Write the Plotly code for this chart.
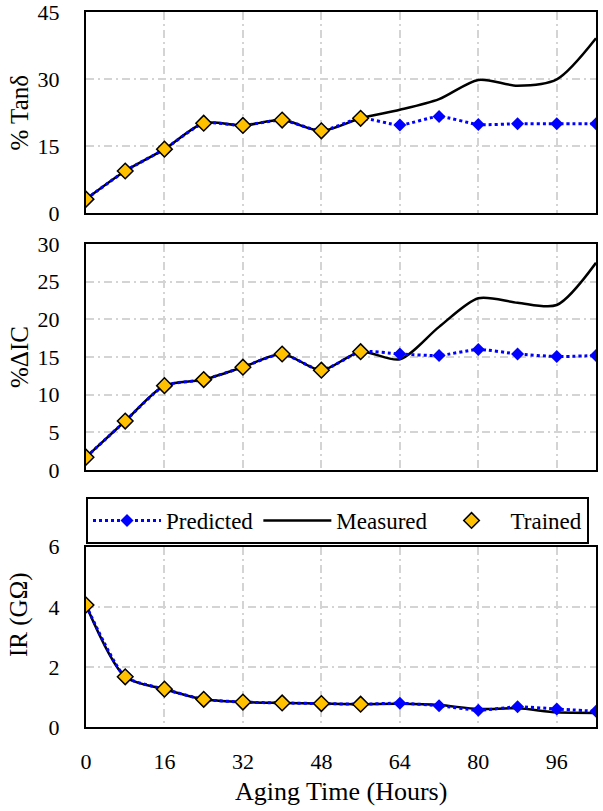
import plotly.graph_objects as go

# ---------------- data ----------------
hours = [0, 8, 16, 24, 32, 40, 48, 56, 64, 72, 80, 88, 96, 104]
trained_hours = [0, 8, 16, 24, 32, 40, 48, 56]

tan_measured = [3.1, 9.4, 14.3, 20.1, 19.6, 20.8, 18.4, 21.2, 23.1, 25.5, 29.8, 28.5, 29.9, 39.1]
tan_predicted = [3.1, 9.4, 14.3, 20.1, 19.6, 20.8, 18.4, 21.2, 19.7, 21.6, 19.8, 20.0, 20.0, 20.0]
tan_trained = [3.1, 9.4, 14.3, 20.1, 19.6, 20.8, 18.4, 21.2]

ic_measured = [1.7, 6.5, 11.2, 12.0, 13.65, 15.4, 13.25, 15.7, 14.7, 19.0, 22.8, 22.2, 21.9, 27.5]
ic_predicted = [1.7, 6.5, 11.2, 12.0, 13.65, 15.4, 13.25, 15.7, 15.4, 15.2, 16.0, 15.4, 15.06, 15.2]
ic_trained = [1.7, 6.5, 11.2, 12.0, 13.65, 15.4, 13.25, 15.7]

ir_measured = [4.06, 1.67, 1.26, 0.92, 0.83, 0.80, 0.78, 0.76, 0.77, 0.73, 0.60, 0.62, 0.49, 0.47]
ir_predicted = [4.06, 1.67, 1.26, 0.92, 0.83, 0.80, 0.78, 0.76, 0.79, 0.71, 0.56, 0.67, 0.60, 0.52]
ir_trained = [4.06, 1.67, 1.26, 0.92, 0.83, 0.80, 0.78, 0.76]

x_ticks = [0, 16, 32, 48, 64, 80, 96]
y_titles = ["% Tanδ", "%ΔIC", "IR (GΩ)"]
x_title = "Aging Time (Hours)"

FONT = "Liberation Serif"
BLUE = "#0000FF"
ORANGE = "#FFC000"

fig = go.Figure()

panels = [
    ("", tan_measured, tan_predicted, tan_trained),
    ("2", ic_measured, ic_predicted, ic_trained),
    ("3", ir_measured, ir_predicted, ir_trained),
]

for i, (sfx, meas, pred, trn) in enumerate(panels):
    show = i == 0
    xa, ya = "x" + sfx, "y" + sfx
    fig.add_trace(go.Scatter(
        x=hours, y=meas, mode="lines", name="Measured",
        line=dict(color="black", width=2.5, shape="spline", smoothing=0.8),
        xaxis=xa, yaxis=ya, showlegend=show, legendrank=2))
    fig.add_trace(go.Scatter(
        x=hours, y=pred, mode="lines+markers", name="Predicted",
        line=dict(color=BLUE, width=3, dash="dot", shape="spline", smoothing=0.6),
        marker=dict(symbol="diamond", size=10, color=BLUE),
        xaxis=xa, yaxis=ya, showlegend=show, legendrank=1))
    fig.add_trace(go.Scatter(
        x=trained_hours, y=trn, mode="markers", name="Trained",
        marker=dict(symbol="diamond", size=12, color=ORANGE,
                    line=dict(color="black", width=1.5)),
        xaxis=xa, yaxis=ya, showlegend=show, legendrank=3))

tickfont = dict(size=22, family=FONT, color="black")
grid = dict(showgrid=True, gridcolor="#d4d4d4", gridwidth=1.5,
            griddash="8px,4px,2px,4px", zeroline=False,
            showline=True, linecolor="black", linewidth=2, mirror=True,
            ticks="", ticklabeloverflow="allow")

# paper area: y from 12 to 727 px (715 px tall)
def frac(py):
    return (727 - py) / 715

doms = [(frac(213), 1.0), (frac(470), frac(244)), (0.0, frac(546.7))]
yranges = [(0, 45, 15), (0, 30, 5), (0, 6, 2)]

for i, sfx in enumerate(["", "2", "3"]):
    xdict = dict(grid, range=[0, 104], tickvals=x_ticks, anchor="y" + sfx,
                 showticklabels=(i == 2), ticklabelstandoff=14,
                 tickfont=tickfont)
    if sfx:
        xdict["matches"] = "x"
    fig.update_layout(**{
        "xaxis" + sfx: xdict,
        "yaxis" + sfx: dict(grid, range=[yranges[i][0], yranges[i][1]],
                            dtick=yranges[i][2], tick0=0,
                            domain=list(doms[i]), anchor="x" + sfx,
                            ticklabelstandoff=20, tickfont=tickfont),
    })

ytitle_centers = [112.5, 357, 615]
for t, cy in zip(y_titles, ytitle_centers):
    fig.add_annotation(text=t, xref="paper", yref="paper",
                       x=(19 - 86) / 510, y=frac(cy), textangle=-90,
                       showarrow=False, xanchor="center", yanchor="middle",
                       font=dict(size=25, family=FONT, color="black"))

fig.add_annotation(text=x_title, xref="paper", yref="paper",
                   x=0.5, y=frac(792), showarrow=False,
                   xanchor="center", yanchor="middle",
                   font=dict(size=26, family=FONT, color="black"))

fig.update_layout(
    width=603, height=811,
    margin=dict(l=86, r=7, t=12, b=84, autoexpand=False),
    plot_bgcolor="white", paper_bgcolor="white",
    font=dict(family=FONT, color="black", size=22),
    legend=dict(orientation="h", x=0, xanchor="left", y=frac(497),
                yanchor="top", bordercolor="black", borderwidth=2,
                bgcolor="white", font=dict(size=23, family=FONT),
                itemwidth=68, traceorder="normal"),
)

fig.write_html("out.html",
               config={"displayModeBar": False},
               post_script="document.body.style.margin='0';"
                           "document.body.style.overflow='hidden';")
